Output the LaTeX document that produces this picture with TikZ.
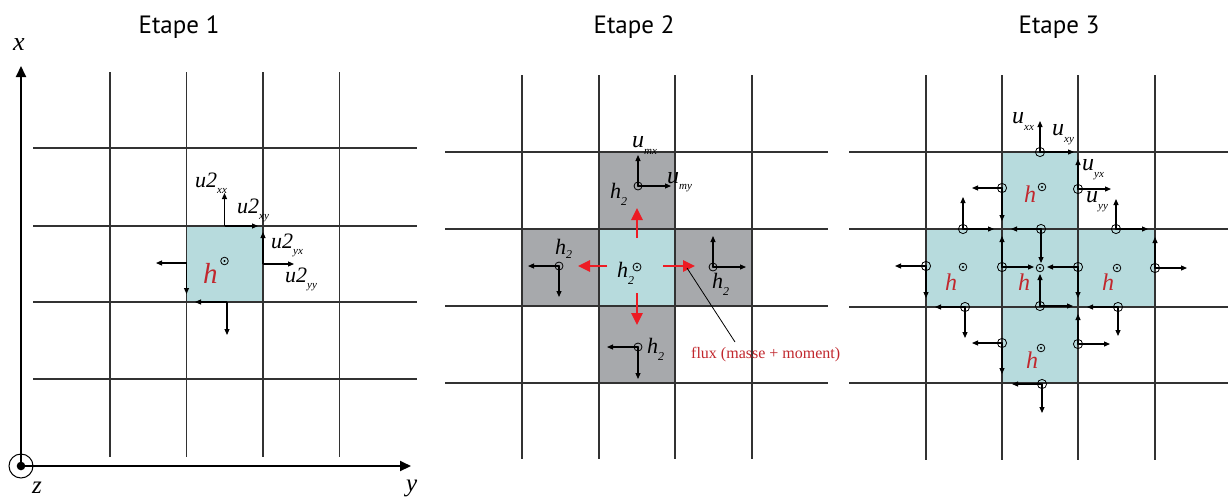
\documentclass[tikz,border=0pt]{standalone}
\usepackage{fontspec}
\setmainfont{Liberation Serif}
\newfontfamily\titlefont{PT Sans}
\usetikzlibrary{arrows.meta}

\definecolor{cyancell}{RGB}{183,219,221}
\definecolor{graycell}{RGB}{167,169,172}
\definecolor{gridcol}{RGB}{50,50,50}
\definecolor{redarr}{RGB}{237,28,36}
\definecolor{redtxt}{RGB}{193,39,45}

\newcommand{\lbl}[5]{{\fontsize{#1}{#1}\selectfont\itshape #2}\raisebox{-#5pt}{\fontsize{#3}{#3}\selectfont\itshape #4}}
\newcommand{\odm}[3]{\draw[line width=0.8pt] (#1,#2) circle (#3pt); \fill (#1,#2) circle (1.1pt);}

\tikzset{
  gridline/.style={draw=gridcol, line width=1.1pt},
  vec/.style={-{Triangle[length=6pt,width=5pt]}, line width=1.1pt},
  redvec/.style={-{Triangle[length=12pt,width=11pt]}, line width=2.6pt, draw=redarr, fill=redarr},
  axis/.style={-{Triangle[length=11pt,width=10pt]}, line width=2pt},
  title/.style={font=\titlefont\fontsize{25}{25}\selectfont, anchor=base, inner sep=0pt},
  lab/.style={anchor=base west, inner sep=0pt},
  hred/.style={anchor=base west, inner sep=0pt, text=redtxt},
}

\begin{document}
\begin{tikzpicture}[x=1pt,y=-1pt]
\useasboundingbox (0,0) rectangle (1228,499);

% ---------------- titles
\node[title] (t1) at (179,33) {Etape 1};
\node[title] (t2) at (634,33) {Etape 2};
\node[title] (t3) at (1059,33) {Etape 3};

% ================= Panel 1
\fill[cyancell] (186.5,226) rectangle (263,302);
\foreach \xx in {110,186.5,263,339.5} \draw[gridline] (\xx,72) -- (\xx,457);
\foreach \yy in {148,226,302,379} \draw[gridline] (33,\yy) -- (417,\yy);

\coordinate (O) at (21,466);
\coordinate (xtip) at (21,66);
\coordinate (ytip) at (411,466);
\draw[axis] (O) -- (xtip);
\draw[axis] (O) -- (ytip);
\draw[line width=1pt] (O) circle (12pt);
\fill (O) circle (4.3pt);
\node[lab] (xlab) at (13,50) {\fontsize{26}{26}\selectfont\itshape x};
\node[lab] (zlab) at (32,493) {\fontsize{25}{25}\selectfont\itshape z};
\node[lab] (ylab) at (406,491) {\fontsize{25}{25}\selectfont\itshape y};

% velocities panel 1
\draw[vec] (224.5,226) -- (224.5,193);
\draw[vec] (224.5,226) -- (258,226);
\draw[vec] (263,264) -- (263,232);
\draw[vec] (263,264) -- (294,264);
\draw[vec] (186.5,263) -- (156,263);
\draw[vec] (186.5,263) -- (186.5,294);
\draw[vec] (227,302) -- (195,302);
\draw[vec] (227,302) -- (227,335);
\odm{224.5}{261}{3.8}
\node[hred] (h1) at (203,283) {\fontsize{29}{29}\selectfont\itshape h};
\node[lab] (u2xx) at (195,187) {\lbl{22}{u2}{11}{xx}{6}};
\node[lab] (u2xy) at (237,213) {\lbl{22}{u2}{11}{xy}{6}};
\node[lab] (u2yx) at (271,248) {\lbl{22}{u2}{11}{yx}{6}};
\node[lab] (u2yy) at (285,282) {\lbl{22}{u2}{11}{yy}{6}};

% ================= Panel 2
\fill[graycell] (599,152) rectangle (675,229);
\fill[graycell] (522,229) rectangle (599,306);
\fill[graycell] (675,229) rectangle (752,306);
\fill[graycell] (599,306) rectangle (675,383);
\fill[cyancell] (599,229) rectangle (675,306);
\foreach \xx in {522,599,675,752} \draw[gridline] (\xx,75) -- (\xx,459);
\foreach \yy in {152,229,306,383} \draw[gridline] (445,\yy) -- (828,\yy);

\draw[vec] (638,186) -- (638,155);
\draw[vec] (638,186) -- (671,186);
\odm{638}{186}{4}
\draw[vec] (559,266) -- (528,266);
\draw[vec] (559,266) -- (559,297);
\odm{559}{266}{4}
\draw[vec] (713,267) -- (713,236);
\draw[vec] (713,267) -- (746,267);
\odm{713}{267}{4}
\draw[vec] (638,347) -- (607,347);
\draw[vec] (638,347) -- (638,379);
\odm{638}{347}{4}
\odm{637}{267}{4}

\draw[redvec] (637,238) -- (637,208);
\draw[redvec] (637,293) -- (637,325);
\draw[redvec] (607,266) -- (578,266);
\draw[redvec] (663,266) -- (695,266);

\node[lab] (umx) at (632,147) {\lbl{24}{u}{11}{mx}{7}};
\node[lab] (umy) at (667,183) {\lbl{24}{u}{11}{my}{6}};
\node[lab] (h2t) at (610,198) {\lbl{22}{h}{12}{2}{7}};
\node[lab] (h2l) at (555,254) {\lbl{22}{h}{12}{2}{4}};
\node[lab] (h2c) at (617,277) {\lbl{22}{h}{12}{2}{7}};
\node[lab] (h2r) at (712,288) {\lbl{22}{h}{12}{2}{7}};
\node[lab] (h2b) at (647,353) {\lbl{22}{h}{12}{2}{7}};

\coordinate (fluxtip) at (687,268);
\coordinate (fluxend) at (735,342);
\draw[line width=0.8pt] (fluxtip) -- (fluxend);
\node[anchor=base west, inner sep=0pt, text=redtxt, font=\fontsize{16}{16}\selectfont] (flux) at (691,358) {flux (masse + moment)};

% ================= Panel 3
\fill[cyancell] (1002,152) -- (1078,152) -- (1078,229) -- (1155,229) -- (1155,307)
  -- (1078,307) -- (1078,383) -- (1002,383) -- (1002,307) -- (926,307) -- (926,229)
  -- (1002,229) -- cycle;
\foreach \xx in {926,1002,1078,1155} \draw[gridline] (\xx,75) -- (\xx,460);
\foreach \yy in {152,229,307,383} \draw[gridline] (849,\yy) -- (1228,\yy);

% face velocities
\draw[vec] (1040,152) -- (1040,121);   \draw[vec] (1040,152) -- (1074,152);  \odm{1040}{152}{4.6}
\draw[vec] (1078,189) -- (1078,159);   \draw[vec] (1078,189) -- (1111,189);  \odm{1078}{189}{4.6}
\draw[vec] (1002,188) -- (972,188);    \draw[vec] (1002,188) -- (1002,221);  \odm{1002}{188}{4.6}
\draw[vec] (1041,229) -- (1011,229);   \draw[vec] (1041,229) -- (1041,263);  \odm{1041}{229}{4.6}
\draw[vec] (963,229) -- (963,197);     \draw[vec] (963,229) -- (994,229);    \odm{963}{229}{4.6}
\draw[vec] (926,266) -- (895,266);     \draw[vec] (926,266) -- (926,298);    \odm{926}{266}{4.6}
\draw[vec] (1002,267) -- (1002,236);   \draw[vec] (1002,267) -- (1034,267);  \odm{1002}{267}{4.6}
\draw[vec] (965,307) -- (935,307);     \draw[vec] (965,307) -- (965,338);    \odm{965}{307}{4.6}
\draw[vec] (1078,267) -- (1047,267);   \draw[vec] (1078,267) -- (1078,298);  \odm{1078}{267}{4.6}
\draw[vec] (1040,306) -- (1040,274);   \draw[vec] (1040,306) -- (1073,306);  \odm{1040}{306}{4.6}
\draw[vec] (1116,229) -- (1116,199);   \draw[vec] (1116,229) -- (1148,229);  \odm{1116}{229}{4.6}
\draw[vec] (1155,268) -- (1155,237);   \draw[vec] (1155,268) -- (1187,268);  \odm{1155}{268}{4.6}
\draw[vec] (1118,307) -- (1087,307);   \draw[vec] (1118,307) -- (1118,336);  \odm{1118}{307}{4.6}
\draw[vec] (1002,343) -- (972,343);    \draw[vec] (1002,343) -- (1002,374);  \odm{1002}{343}{4.6}
\draw[vec] (1078,344) -- (1078,314);   \draw[vec] (1078,344) -- (1110,344);  \odm{1078}{344}{4.6}
\draw[vec] (1042,384) -- (1012,384);   \draw[vec] (1042,384) -- (1042,413);  \odm{1042}{384}{4.6}

% cell centres
\odm{1042}{187}{3.8}
\odm{963}{267}{3.8}
\odm{1040}{268}{3.8}
\odm{1117}{268}{3.8}
\odm{1041}{348}{3.8}
\node[hred] (h3t) at (1024,202) {\fontsize{24}{24}\selectfont\itshape h};
\node[hred] (h3l) at (945,290) {\fontsize{24}{24}\selectfont\itshape h};
\node[hred] (h3c) at (1018,290) {\fontsize{24}{24}\selectfont\itshape h};
\node[hred] (h3r) at (1102,290) {\fontsize{24}{24}\selectfont\itshape h};
\node[hred] (h3b) at (1026,368) {\fontsize{24}{24}\selectfont\itshape h};

\node[lab] (uxx) at (1012,123) {\lbl{24}{u}{11}{xx}{7}};
\node[lab] (uxy) at (1052,135) {\lbl{24}{u}{11}{xy}{7}};
\node[lab] (uyx) at (1082,170) {\lbl{24}{u}{11}{yx}{7}};
\node[lab] (uyy) at (1086,202) {\lbl{24}{u}{11}{yy}{7}};
\end{tikzpicture}
\end{document}
